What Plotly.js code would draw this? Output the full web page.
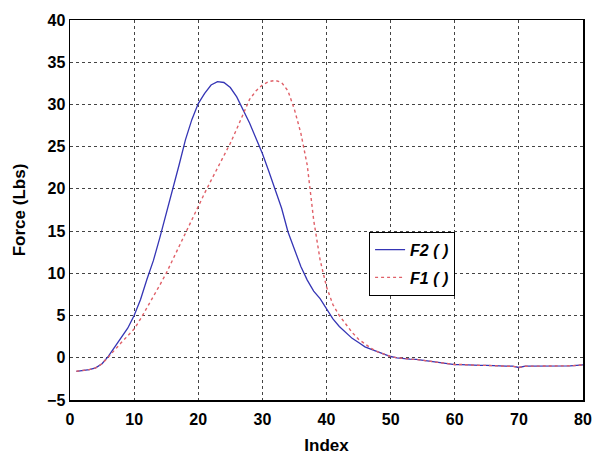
<!DOCTYPE html>
<html>
<head>
<meta charset="utf-8">
<script src="https://cdn.plot.ly/plotly-3.0.1.min.js"></script>
<style>html,body{margin:0;padding:0;background:#fff;}#chart{width:593px;height:455px;}</style>
</head>
<body>
<div id="chart"></div>
<script>
var index = [];
for (var i = 1; i <= 80; i++) index.push(i);

var f2 = [-1.6,-1.5,-1.4,-1.2,-0.7,0.2,1.3,2.3,3.5,5.0,
          6.9,9.3,11.5,14.2,17.0,19.8,22.8,25.8,28.2,30.1,
          31.3,32.3,32.7,32.6,32.0,30.9,29.4,27.8,26.0,24.2,
          22.1,20.0,17.7,14.9,12.9,10.8,9.2,7.9,7.0,5.8,
          4.6,3.7,3.0,2.3,1.8,1.3,1.0,0.7,0.4,0.15,
          0.0,-0.1,-0.15,-0.2,-0.3,-0.4,-0.5,-0.6,-0.7,-0.8,
          -0.8,-0.85,-0.85,-0.9,-0.9,-0.95,-0.95,-1.0,-1.0,-1.15,
          -1.0,-1.0,-1.0,-1.0,-1.0,-1.0,-0.95,-0.95,-0.9,-0.85];

var f1 = [-1.6,-1.5,-1.4,-1.2,-0.7,0.1,1.0,1.8,2.6,3.4,
          4.6,5.9,7.2,8.6,10.0,11.6,13.3,14.9,16.4,17.9,
          19.5,21.0,22.5,24.0,25.4,27.1,28.8,30.6,31.6,32.3,
          32.7,32.85,32.6,31.6,29.4,26.6,22.8,16.3,11.6,8.4,
          6.3,5.0,4.0,3.0,2.2,1.6,1.1,0.7,0.4,0.15,
          0.0,-0.1,-0.15,-0.2,-0.3,-0.4,-0.5,-0.6,-0.7,-0.8,
          -0.8,-0.85,-0.85,-0.9,-0.9,-0.95,-0.95,-1.0,-1.0,-1.15,
          -1.0,-1.0,-1.0,-1.0,-1.0,-1.0,-0.95,-0.95,-0.9,-0.85];

var seriesNames = ['F2 ( )', 'F1 ( )'];

var traces = [
  {x: index, y: f2, name: seriesNames[0], type: 'scatter', mode: 'lines',
   legendgroup: 'a', line: {color: '#3535b5', width: 1.3}},
  {x: index, y: f1, name: seriesNames[1], type: 'scatter', mode: 'lines',
   legendgroup: 'b', line: {color: '#e06068', width: 1.4, dash: '3px,3px'}}
];

var tickF = {family: 'Liberation Sans, Arial, sans-serif', size: 16, color: '#000', weight: 'bold'};
var titleF = {family: 'Liberation Sans, Arial, sans-serif', size: 17, color: '#000', weight: 'bold'};

var layout = {
  width: 593, height: 455,
  margin: {l: 70, r: 10, t: 20, b: 55},
  paper_bgcolor: '#fff', plot_bgcolor: '#fff',
  showlegend: true,
  legend: {
    x: 0.583, y: 0.443, xanchor: 'left', yanchor: 'top',
    bordercolor: '#000', borderwidth: 1, bgcolor: '#fff',
    font: {family: 'Liberation Sans, Arial, sans-serif', size: 16, color: '#000', weight: 'bold', style: 'italic'},
    tracegroupgap: 4
  },
  xaxis: {
    range: [0, 80], dtick: 10, tick0: 0,
    showgrid: true, gridcolor: '#444', griddash: 'dot', gridwidth: 1,
    showline: true, linecolor: '#000', linewidth: 1.5, mirror: true,
    zeroline: false, ticks: '', ticklabelstandoff: 4,
    tickfont: tickF,
    title: {text: 'Index', font: titleF, standoff: 12}
  },
  yaxis: {
    range: [-5, 40], dtick: 5, tick0: 0,
    showgrid: true, gridcolor: '#444', griddash: 'dot', gridwidth: 1,
    showline: true, linecolor: '#000', linewidth: 1.5, mirror: true,
    zeroline: false, ticks: '',
    tickfont: tickF,
    title: {text: 'Force (Lbs)', font: titleF, standoff: 17}
  }
};

Plotly.newPlot('chart', traces, layout, {displayModeBar: false, staticPlot: true});
</script>
</body>
</html>
